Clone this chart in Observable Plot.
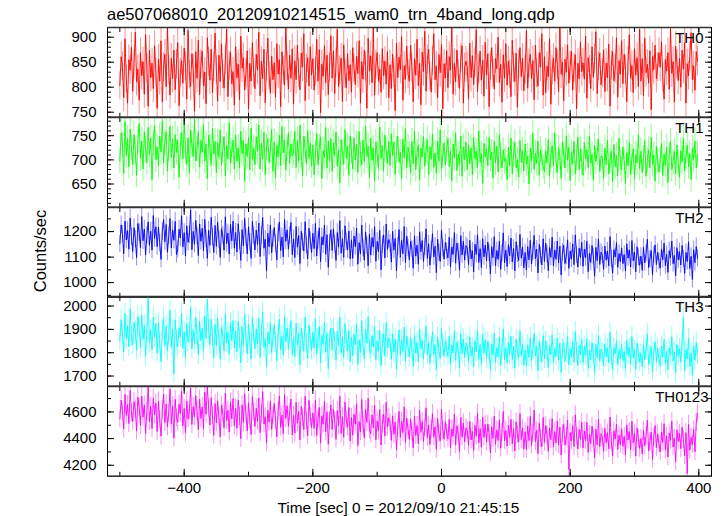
<!DOCTYPE html>
<html><head><meta charset="utf-8">
<script src="https://cdn.jsdelivr.net/npm/d3@7"></script>
<script src="https://cdn.jsdelivr.net/npm/@observablehq/plot@0.6"></script>
<style>
body{margin:0;background:#fff;}
#chart{position:relative;width:723px;height:516px;font-family:"Liberation Sans",Arial,Helvetica,sans-serif;color:#000;overflow:hidden;background:#fff}
.abs{position:absolute;white-space:nowrap;line-height:1}
#chart svg{position:absolute;left:0}
</style></head><body><div id="chart"></div>
<script>
const title = "ae507068010_20120910214515_wam0_trn_4band_long.qdp";
const xLabel = "Time [sec] 0 = 2012/09/10 21:45:15";
const yLabel = "Counts/sec";
const bands = ["TH0", "TH1", "TH2", "TH3", "TH0123"];
const colors = ["#ff0000", "#00ff00", "#0000ff", "#00ffff", "#ff00ff"];
const tStart = -500, tStep = 2; // time bins [sec]

const th0 = [
803,861,842,779,897,816,768,855,834,880,792,847,910,811,836,
774,869,823,851,786,905,838,762,874,819,848,797,883,829,758,
856,812,893,771,840,866,801,921,835,784,858,817,874,795,846,
889,763,829,853,808,878,842,776,914,825,801,867,836,752,871,
818,894,785,846,872,803,830,767,899,851,814,876,789,841,908,
835,772,864,811,887,826,798,855,916,781,843,870,807,831,764,
881,819,846,775,902,838,859,794,827,873,756,848,812,889,829,
797,866,834,910,783,852,817,876,769,841,898,823,788,862,815,
849,780,887,826,855,761,871,833,804,919,842,796,864,818,877,
766,853,815,884,828,795,868,840,907,773,837,859,802,881,824,
857,794,831,896,812,875,749,846,822,883,809,864,785,840,903,
818,872,787,849,916,801,834,858,771,885,826,799,867,813,845,
790,879,838,805,862,827,893,768,851,816,874,841,758,898,832,
863,809,921,784,845,869,812,836,790,877,823,852,806,871,779,
845,797,866,828,753,888,819,860,835,901,774,843,816,882,826,
812,884,839,771,857,824,896,803,848,765,870,831,912,792,855,
876,821,790,853,907,815,842,779,865,829,886,757,847,818,873,
799,861,834,919,786,848,811,874,826,797,858,883,768,839,852,
841,776,888,819,863,805,849,915,791,836,872,814,854,782,890,
824,867,761,843,879,828,796,857,837,900,809,846,770,865,818,
887,804,852,826,781,894,839,811,868,760,845,879,821,858,793,
835,913,798,847,866,817,853,775,884,828,802,869,840,907,784,
861,789,842,821,897,766,834,858,812,879,845,791,925,826,850,
773,856,830,885,808,843,872,794,839,865,757,848,817,890,831,
849,816,902,778,859,835,797,881,820,856,911,787,842,868,805,
828,875,791,848,819,886,762,844,871,813,837,899,780,853,826,
893,807,866,834,771,852,905,818,843,789,877,824,859,801,916,
812,857,783,898,829,846,808,873,755,861,835,884,817,840,869,
840,891,819,776,855,832,869,796,917,828,851,770,882,846,813,
858,800,874,836,889,768,847,823,862,909,815,843,794,871,852];

const th1 = [
697,756,731,672,779,709,744,686,763,725,691,752,718,668,741,
775,703,739,681,758,722,694,767,711,745,659,734,771,700,727,
688,749,716,781,694,736,758,677,724,769,705,743,683,752,715,
741,664,728,757,702,778,719,690,746,673,762,731,707,784,698,
722,759,685,740,716,773,697,733,661,751,726,689,765,712,738,
673,736,705,762,689,721,748,667,730,702,777,694,718,741,681,
752,697,725,684,759,713,740,656,733,707,746,679,766,701,724,
690,748,718,772,681,735,702,757,669,727,744,695,719,763,676,
737,662,729,706,751,688,769,714,741,679,724,756,693,733,708,
716,759,684,740,697,772,710,667,749,721,692,761,702,735,688,
731,669,714,754,690,726,748,661,719,705,767,683,739,697,744,
676,735,709,758,687,721,652,742,714,691,763,704,728,668,750,
718,681,746,700,733,674,759,711,689,741,696,770,707,728,663,
745,699,724,656,737,712,682,768,703,730,677,751,719,692,738,
688,754,709,737,670,722,749,695,716,661,743,704,765,684,726,
711,673,738,692,759,680,716,731,658,724,706,748,687,719,742,
669,727,701,753,684,714,672,739,697,762,681,709,735,690,721,
744,686,718,657,733,704,756,678,712,691,749,666,727,700,737,
680,731,692,725,669,747,702,718,684,760,695,713,651,734,706,
723,688,746,701,716,662,739,694,728,675,752,708,683,720,697,
703,659,726,688,745,671,712,736,683,700,664,741,695,719,677,
733,691,708,650,724,697,755,680,714,693,739,668,721,702,686,
675,718,694,742,666,710,729,687,756,698,673,725,706,661,737,
711,683,750,699,726,657,715,692,738,671,704,747,680,723,694,
668,736,702,721,684,749,693,711,658,730,697,715,743,676,708,
706,662,724,690,741,671,699,718,655,732,686,709,667,745,693,
679,727,697,651,715,688,736,670,704,723,660,711,694,752,682,
718,674,703,740,666,699,721,683,747,691,710,656,728,697,675,
700,735,668,712,689,726,653,709,738,680,695,717,671,731,692,
664,719,696,744,677,708,730,686,713,659,724,701,739,683,712];

const th2 = [
1152,1226,1189,1113,1241,1167,1204,1131,1253,1180,1122,1215,1170,1098,1232,
1196,1137,1259,1164,1210,1108,1185,1238,1146,1202,1127,1263,1173,1219,1141,
1218,1155,1091,1199,1247,1160,1228,1119,1183,1251,1136,1207,1166,1240,1110,
1131,1209,1175,1262,1140,1196,1104,1223,1158,1187,1285,1129,1201,1150,1244,
1183,1106,1230,1162,1213,1125,1248,1171,1095,1205,1146,1256,1178,1118,1224,
1142,1236,1168,1099,1211,1185,1127,1258,1153,1194,1112,1229,1164,1241,1135,
1197,1120,1231,1163,1087,1208,1144,1252,1176,1113,1219,1158,1095,1240,1183,
1128,1206,1149,1233,1102,1184,1255,1135,1170,1045,1194,1141,1226,1117,1173,
1216,1153,1089,1195,1238,1126,1179,1101,1247,1162,1207,1131,1185,1236,1110,
1171,1098,1220,1139,1184,1075,1201,1158,1124,1239,1146,1093,1213,1165,1118,
1193,1133,1232,1104,1166,1215,1082,1179,1148,1226,1111,1188,1060,1157,1207,
1126,1211,1150,1087,1196,1139,1243,1115,1172,1099,1223,1160,1128,1202,1093,
1168,1095,1183,1141,1214,1072,1157,1112,1226,1134,1088,1199,1145,1066,1191,
1108,1177,1139,1219,1084,1162,1121,1205,1050,1148,1187,1097,1230,1130,1169,
1154,1080,1201,1127,1173,1046,1142,1208,1099,1166,1113,1220,1078,1182,1135,
1089,1162,1131,1056,1184,1104,1147,1072,1199,1121,1165,1083,1140,1211,1095,
1152,1068,1129,1192,1101,1143,1039,1170,1117,1083,1206,1134,1092,1157,1123,
1097,1178,1061,1139,1111,1196,1076,1155,1120,1049,1184,1108,1163,1088,1145,
1137,1070,1166,1093,1125,1042,1151,1110,1188,1079,1133,1059,1172,1101,1147,
1085,1159,1117,1034,1141,1098,1180,1066,1126,1091,1163,1052,1114,1195,1077,
1128,1063,1149,1105,1175,1081,1134,1046,1160,1112,1087,1189,1096,1140,1058,
1118,1050,1141,1089,1166,1073,1122,1185,1094,1131,1038,1150,1106,1069,1172,
1083,1155,1112,1047,1137,1099,1178,1065,1128,1091,1163,1077,1143,1030,1119,
1146,1075,1103,1168,1056,1124,1092,1152,1070,1187,1108,1061,1135,1098,1158,
1064,1131,1097,1162,1043,1115,1079,1146,1102,1025,1138,1086,1171,1071,1119,
1107,1052,1143,1088,1124,1066,1180,1093,1037,1129,1101,1157,1060,1114,1082,
1136,1074,1110,1045,1152,1096,1128,1061,1165,1085,1119,1042,1141,1099,1068,
1104,1048,1139,1077,1115,1170,1059,1092,1126,1031,1108,1148,1071,1119,1083,
1057,1132,1090,1155,1066,1111,1040,1125,1098,1163,1074,1106,1027,1137,1089,
1121,1069,1146,1093,1036,1118,1082,1160,1055,1103,1012,1129,1078,1141,1095];

const th3 = [
1851,1942,1879,1803,1967,1860,1915,1826,1988,1872,1834,1930,1893,1811,1956,
1905,1822,1961,1858,1917,1784,1886,2035,1843,1898,1813,1952,1866,1925,1797,
1928,1841,1762,1893,1949,1830,1915,1808,1877,1982,1824,1902,1710,1941,1855,
1824,1907,1866,1968,1819,1889,1781,1924,1847,1880,1995,1816,1898,1840,1951,
1873,1792,1936,1851,1905,1806,1957,1862,2030,1899,1835,1944,1868,1777,1921,
1830,1948,1857,1772,1910,1876,1808,1966,1841,1887,1795,1929,1853,1938,1820,
1893,1804,1935,1859,1757,1912,1831,1965,1868,1796,1922,1846,1773,1950,1877,
1817,1902,1838,1947,1781,1874,1974,1823,1860,1742,1889,1835,1930,1801,1866,
1921,1845,1766,1884,1944,1812,1871,1790,1957,1848,1906,1815,1879,1938,1792,
1862,1783,1927,1833,1883,1748,1905,1851,1806,1952,1840,1774,1918,1859,1810,
1887,1819,1946,1795,1861,1912,1757,1873,1836,1931,1802,1884,1731,1853,1905,
1812,1904,1845,1768,1892,1830,1953,1799,1866,1779,1925,1848,1809,1896,1761,
1866,1787,1878,1834,1921,1750,1855,1801,1937,1826,1773,1899,1841,1954,1817,
1797,1873,1826,1912,1770,1851,1805,1896,1744,1839,1882,1785,1929,1820,1862,
1849,1772,1881,1803,1858,1729,1834,1897,1788,1856,1805,1910,1763,1871,1826,
1781,1865,1812,1742,1876,1798,1843,1760,1901,1817,1853,1773,1838,1915,1791,
1842,1754,1826,1889,1792,1835,1725,1868,1809,1776,1905,1828,1785,1851,1818,
1784,1872,1750,1833,1799,1893,1767,1846,1812,1735,1880,1796,1858,1779,1841,
1829,1762,1868,1787,1824,1739,1852,1803,1894,1771,1836,1751,1879,1798,1855,
1775,1848,1809,1725,1837,1790,1883,1758,1821,1782,1866,1744,1815,1902,1770,
1822,1756,1845,1793,1871,1771,1828,1735,1858,1806,1779,1893,1788,1836,1747,
1812,1741,1834,1780,1865,1764,1819,1882,1786,1827,1723,1849,1797,1761,1873,
1773,1851,1806,1736,1830,1792,1877,1757,1818,1783,1862,1768,1840,1715,1815,
1844,1763,1798,1869,1748,1816,1784,1847,1759,1890,1802,1745,1831,1790,1856,
1757,1826,1789,1860,1732,1809,1771,1843,1797,1712,1836,1778,1874,1764,1815,
1801,1744,1839,1783,1820,1757,1888,1786,1725,1823,1795,1851,1748,1812,1773,
1834,1766,1805,1731,1852,1790,1823,1752,1869,1779,1814,1728,1840,1795,1760,
1797,1739,1833,1770,1811,1881,1749,1785,1826,1718,1803,1847,1762,1819,1776,
1745,1828,1782,1856,1754,1806,1727,1821,1791,1868,1765,1803,1714,1835,1786,
1818,1759,1847,1951,1724,1812,1774,1862,1741,1799,1703,1829,1768,1844,1792];

const th0123 = [
4548,4689,4601,4472,4731,4574,4655,4512,4762,4593,4529,4677,4620,4456,4711,
4634,4498,4719,4561,4652,4437,4603,4785,4527,4641,4476,4702,4579,4668,4453,
4682,4541,4418,4615,4733,4520,4660,4489,4592,4772,4508,4646,4403,4695,4556,
4523,4657,4588,4756,4495,4626,4442,4681,4549,4604,4779,4506,4640,4562,4723,
4602,4466,4695,4551,4638,4474,4748,4583,4790,4629,4502,4707,4571,4425,4664,
4517,4683,4560,4412,4649,4594,4481,4741,4535,4612,4449,4675,4548,4700,4496,
4626,4478,4690,4567,4399,4653,4520,4738,4584,4457,4669,4542,4431,4716,4597,
4491,4628,4530,4705,4445,4587,4752,4509,4563,4367,4614,4524,4681,4470,4572,
4663,4538,4413,4601,4720,4485,4577,4436,4730,4551,4646,4492,4598,4697,4427,
4574,4441,4672,4516,4603,4389,4640,4559,4468,4718,4534,4420,4687,4565,4483,
4593,4476,4688,4423,4549,4634,4366,4571,4508,4679,4452,4601,4358,4537,4652,
4469,4620,4532,4394,4611,4497,4717,4438,4565,4410,4674,4541,4486,4633,4382,
4559,4425,4583,4507,4662,4348,4528,4451,4694,4502,4404,4619,4521,4702,4463,
4437,4579,4481,4650,4390,4532,4458,4618,4352,4509,4585,4419,4672,4488,4556,
4516,4387,4571,4432,4524,4315,4478,4604,4409,4531,4445,4639,4372,4553,4467,
4395,4543,4451,4329,4568,4423,4498,4361,4612,4447,4529,4378,4484,4631,4406,
4502,4356,4470,4587,4412,4489,4318,4551,4438,4384,4620,4463,4395,4527,4441,
4398,4545,4329,4472,4419,4583,4353,4496,4437,4301,4558,4411,4517,4376,4481,
4462,4347,4528,4390,4455,4312,4499,4420,4592,4368,4475,4335,4561,4409,4507,
4373,4510,4436,4292,4488,4401,4569,4357,4465,4386,4541,4328,4449,4603,4384,
4461,4343,4502,4408,4545,4362,4473,4307,4526,4431,4374,4588,4393,4480,4321,
4452,4318,4495,4385,4568,4349,4441,4614,4377,4463,4288,4517,4402,4339,4559,
4371,4497,4428,4304,4478,4392,4551,4336,4453,4367,4531,4352,4486,4276,4440,
4506,4351,4414,4539,4168,4445,4382,4497,4341,4578,4418,4322,4469,4395,4522,
4329,4458,4384,4521,4296,4432,4361,4494,4405,4255,4471,4352,4546,4337,4437,
4412,4303,4477,4368,4443,4322,4562,4381,4270,4456,4397,4509,4318,4425,4355,
4474,4341,4416,4278,4503,4389,4452,4314,4530,4366,4438,4269,4481,4398,4326,
4401,4284,4462,4346,4423,4538,4307,4375,4450,4243,4409,4497,4331,4436,4359,
4300,4451,4372,4512,4316,4418,4262,4441,4387,4529,4338,4404,4227,4466,4380,
4438,4324,4486,4393,4271,4445,4137,4507,4313,4410,4356,4468,4301,4523,4590];

const series = [th0, th1, th2, th3, th0123];

const xMajorTicks = [-400, -200, 0, 200, 400];
const xMinorStep = 100;
const yMajorTicks = [
  [750, 800, 850, 900],
  [650, 700, 750],
  [1000, 1100, 1200],
  [1700, 1800, 1900, 2000],
  [4200, 4400, 4600]
];
const yMinorSteps = [10, 10, 50, 50, 100];

// scale setup
const xDomain = [-519.2, 419.7];
const yDomains = [[739.8, 919.4], [601.8, 787.7], [942.4, 1294.5], [1656, 2041], [4117, 4791]];

const W = 723, left = 107, right = 12, top0 = 27, panelH = 89.8, pad = 3;
const font = '"Liberation Sans", Arial, Helvetica, sans-serif';
const fmt = d => d < 0 ? "\u2212" + (-d) : String(d);
const chart = document.getElementById("chart");

function minorTicks(domain, step) {
  const a = Math.ceil(domain[0] / step) * step;
  return d3.range(a, domain[1] + 1e-9, step);
}
const xMinor = minorTicks(xDomain, xMinorStep);

series.forEach((vals, i) => {
  const data = vals.map((v, j) => ({t: tStart + j * tStep, v, e: Math.sqrt(v)}));
  const last = i === series.length - 1;
  const mb = last ? 45 : pad;
  const yd = yDomains[i];
  const yMinor = minorTicks(yd, yMinorSteps[i]);
  const blank = () => "";
  const marks = [
    Plot.ruleX(data, {x: "t", y1: d => d.v - d.e, y2: d => d.v + d.e, stroke: colors[i], strokeOpacity: 0.45, strokeWidth: 1, clip: true}),
    Plot.line(data, {x: "t", y: "v", stroke: colors[i], strokeWidth: 0.9, clip: true}),
    Plot.frame({stroke: "#000", strokeWidth: 1}),
    Plot.ruleY([yd[0], yd[1]], {stroke: "#333", strokeWidth: 1.6}),
    Plot.axisY(yMajorTicks[i], {anchor: "left", tickSize: -7, tickFormat: blank, label: null}),
    Plot.axisY(yMinor, {anchor: "left", tickSize: -4, tickFormat: blank, label: null}),
    Plot.axisY(yMajorTicks[i], {anchor: "right", tickSize: -7, tickFormat: blank, label: null}),
    Plot.axisY(yMinor, {anchor: "right", tickSize: -4, tickFormat: blank, label: null}),
    Plot.axisY(yMajorTicks[i], {anchor: "left", tickSize: 0, tickPadding: 11, tickFormat: fmt, label: null}),
    Plot.axisX(xMajorTicks, {anchor: "bottom", tickSize: -7, tickFormat: blank, label: null}),
    Plot.axisX(xMinor, {anchor: "bottom", tickSize: -4, tickFormat: blank, label: null}),
    Plot.axisX(xMajorTicks, {anchor: "top", tickSize: -7, tickFormat: blank, label: null}),
    Plot.axisX(xMinor, {anchor: "top", tickSize: -4, tickFormat: blank, label: null}),
    Plot.text([bands[i]], {text: d => d, frameAnchor: "top-right", dx: last ? -3 : -8, dy: 5, textAnchor: "end", lineAnchor: "top", fontSize: 15})
  ];
  if (last) marks.push(Plot.axisX(xMajorTicks, {anchor: "bottom", tickSize: 0, tickPadding: 6, tickFormat: fmt, label: null}));
  const svg = Plot.plot({
    width: W, height: panelH + pad + mb,
    marginLeft: left, marginRight: right, marginTop: pad, marginBottom: mb,
    x: {domain: xDomain, axis: null},
    y: {domain: yd, axis: null},
    style: {background: "transparent", overflow: "visible", fontFamily: font, fontSize: "15px", color: "#000"},
    marks
  });
  svg.style.top = (top0 + i * panelH - pad) + "px";
  chart.appendChild(svg);
});

function addText(txt, css) {
  const d = document.createElement("div");
  d.className = "abs";
  d.textContent = txt;
  Object.assign(d.style, css);
  chart.appendChild(d);
}
addText(title, {left: "107px", top: "6px", fontSize: "16.5px"});
addText(xLabel, {left: "398.4px", top: "499.6px", fontSize: "15.4px", transform: "translateX(-50%)"});
addText(yLabel, {left: "40px", top: "251px", fontSize: "16.5px", transform: "translate(-50%,-50%) rotate(-90deg)"});
</script>
</body></html>
